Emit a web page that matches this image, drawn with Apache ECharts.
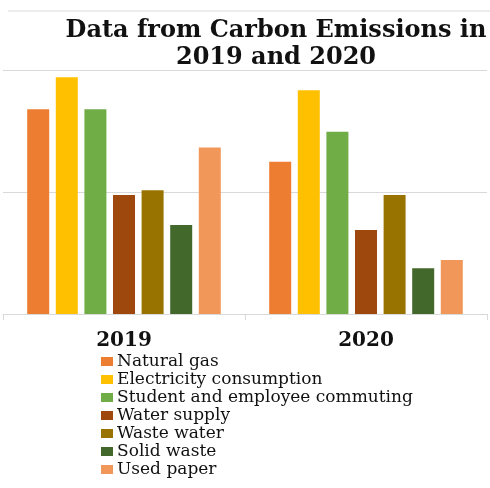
<!DOCTYPE html>
<html>
<head>
<meta charset="utf-8">
<script src="https://cdn.jsdelivr.net/npm/echarts@6/dist/echarts.min.js"></script>
<style>
html,body{margin:0;padding:0;background:#fff;}
#chart{width:490px;height:488px;}
</style>
</head>
<body>
<div id="chart"></div>
<script>
var years = ['2019', '2020'];
var sourceNames = ['Natural gas', 'Electricity consumption', 'Student and employee commuting', 'Water supply', 'Waste water', 'Solid waste', 'Used paper'];
var naturalGas = [839, 624];
var electricity = [970, 917];
var commuting = [839, 747];
var waterSupply = [488, 344];
var wasteWater = [507, 488];
var solidWaste = [365, 187];
var usedPaper = [682, 221];
var colors = ['#ED7D31', '#FFC000', '#70AD47', '#9E480E', '#997300', '#43682B', '#F1975A'];

var seriesValues = [naturalGas, electricity, commuting, waterSupply, wasteWater, solidWaste, usedPaper];
var series = sourceNames.map(function (name, i) {
  return {
    name: name,
    type: 'bar',
    data: seriesValues[i],
    barWidth: 22,
    barGap: '30%',
    itemStyle: { color: colors[i] }
  };
});

var chart = echarts.init(document.getElementById('chart'), null, { renderer: 'canvas' });
chart.setOption({
  animation: false,
  backgroundColor: '#ffffff',
  color: colors,
  title: {
    text: 'Data from Carbon Emissions in\n2019 and 2020',
    left: 276,
    top: 17,
    padding: 0,
    textAlign: 'center',
    textStyle: {
      fontFamily: 'DejaVu Serif',
      fontWeight: 'bold',
      fontSize: 24,
      lineHeight: 27,
      color: '#111111'
    }
  },
  graphic: [{
    type: 'line',
    shape: { x1: 8, y1: 11, x2: 490, y2: 11 },
    style: { stroke: '#d9d9d9', lineWidth: 1 }
  }],
  legend: {
    orient: 'vertical',
    left: 101,
    top: 353,
    height: 134,
    padding: 0,
    itemGap: 1,
    itemWidth: 12,
    itemHeight: 9,
    icon: 'rect',
    textStyle: {
      fontFamily: 'DejaVu Serif',
      fontSize: 17,
      lineHeight: 17,
      color: '#111111',
      padding: [0, 0, 0, -1]
    },
    data: sourceNames
  },
  grid: { left: 3, right: 3, top: 70, bottom: 174, containLabel: false },
  xAxis: {
    type: 'category',
    data: years,
    axisLine: { lineStyle: { color: '#d9d9d9', width: 1 } },
    axisTick: { show: true, length: 6, lineStyle: { color: '#d9d9d9' } },
    axisLabel: {
      margin: 17,
      fontFamily: 'DejaVu Serif',
      fontWeight: 'bold',
      fontSize: 20,
      color: '#111111'
    }
  },
  yAxis: {
    type: 'value',
    min: 0,
    max: 1000,
    interval: 500,
    axisLabel: { show: false },
    axisLine: { show: false },
    axisTick: { show: false },
    splitLine: { lineStyle: { color: '#d9d9d9', width: 1 } }
  },
  series: series
});
</script>
</body>
</html>
